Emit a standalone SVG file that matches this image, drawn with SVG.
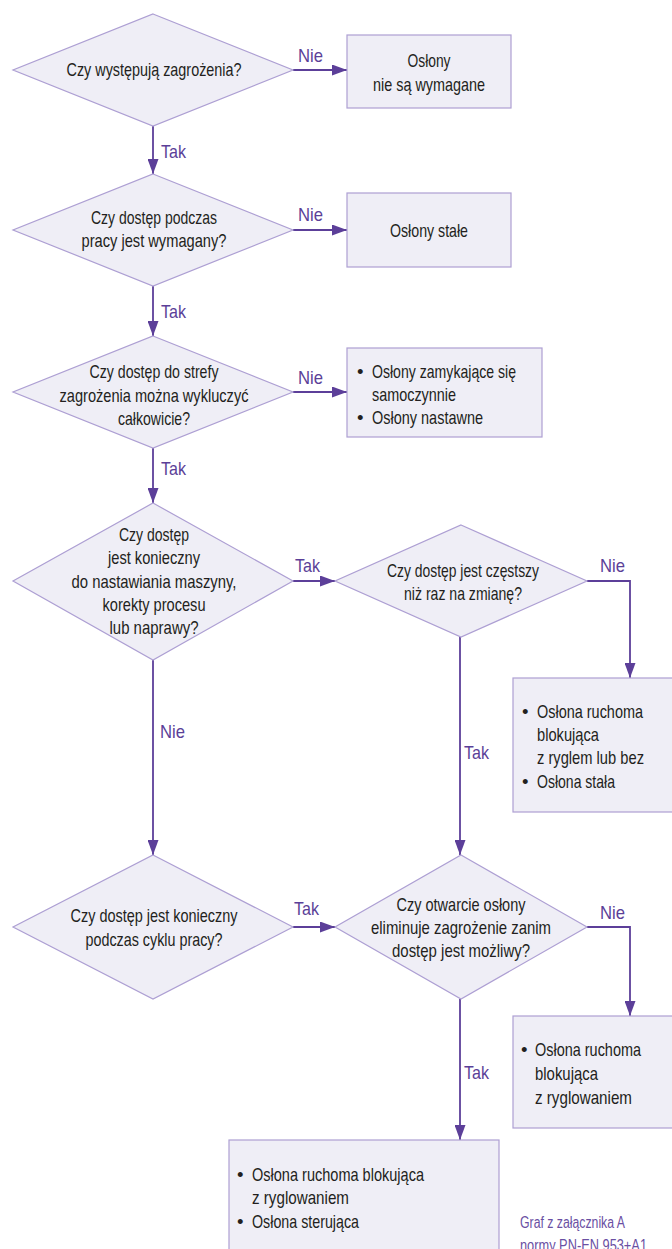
<svg xmlns="http://www.w3.org/2000/svg" width="672" height="1249" viewBox="0 0 672 1249">
<defs>
<style>
.node{fill:#efeef6;stroke:#ad9fd3;stroke-width:1.2}
.t{font-family:"Liberation Sans",Arial,sans-serif;font-size:18.5px;fill:#231f20}
.c{text-anchor:middle}
.lbl{font-family:"Liberation Sans",Arial,sans-serif;font-size:19px;fill:#5b3f98}
.cap{font-family:"Liberation Sans",Arial,sans-serif;font-size:16px;fill:#6a4fa3}
.conn{fill:none;stroke:#5c3f99;stroke-width:1.8;marker-end:url(#arr)}
</style>
<marker id="arr" markerUnits="userSpaceOnUse" markerWidth="15" markerHeight="11" refX="15" refY="5.5" orient="auto">
<path d="M0,0 L15,5.5 L0,11 z" fill="#5c3f99"/>
</marker>
</defs>
<rect width="672" height="1249" fill="#ffffff"/>

<g id="connectors">
<path class="conn" d="M293,70 H347"/>
<path class="conn" d="M153,126 V174"/>
<path class="conn" d="M293,230 H347"/>
<path class="conn" d="M153,286 V336"/>
<path class="conn" d="M293,392 H347"/>
<path class="conn" d="M153,448 V503"/>
<path class="conn" d="M293,581 H335"/>
<path class="conn" d="M587,581 H630 V678"/>
<path class="conn" d="M153,660 V855"/>
<path class="conn" d="M460,637 V855"/>
<path class="conn" d="M293,927 H335"/>
<path class="conn" d="M587,927 H630 V1016"/>
<path class="conn" d="M460,999 V1140"/>
<g id="labels">
<text class="lbl" x="298" y="62" textLength="25" lengthAdjust="spacingAndGlyphs">Nie</text>
<text class="lbl" x="161" y="158" textLength="25" lengthAdjust="spacingAndGlyphs">Tak</text>
<text class="lbl" x="298" y="221" textLength="25" lengthAdjust="spacingAndGlyphs">Nie</text>
<text class="lbl" x="161" y="318" textLength="25" lengthAdjust="spacingAndGlyphs">Tak</text>
<text class="lbl" x="298" y="384" textLength="25" lengthAdjust="spacingAndGlyphs">Nie</text>
<text class="lbl" x="161" y="475" textLength="25" lengthAdjust="spacingAndGlyphs">Tak</text>
<text class="lbl" x="295" y="572" textLength="25" lengthAdjust="spacingAndGlyphs">Tak</text>
<text class="lbl" x="600" y="572" textLength="25" lengthAdjust="spacingAndGlyphs">Nie</text>
<text class="lbl" x="160" y="738" textLength="25" lengthAdjust="spacingAndGlyphs">Nie</text>
<text class="lbl" x="464" y="759" textLength="25" lengthAdjust="spacingAndGlyphs">Tak</text>
<text class="lbl" x="294" y="915" textLength="25" lengthAdjust="spacingAndGlyphs">Tak</text>
<text class="lbl" x="600" y="919" textLength="25" lengthAdjust="spacingAndGlyphs">Nie</text>
<text class="lbl" x="464" y="1079" textLength="25" lengthAdjust="spacingAndGlyphs">Tak</text>
</g>
</g>

<g id="d1">
<polygon class="node" points="153,14 293,70 153,126 13,70"/>
<text class="t c" x="154" y="76" textLength="175" lengthAdjust="spacingAndGlyphs">Czy występują zagrożenia?</text>
</g>
<g id="b1">
<rect class="node" x="347" y="35" width="164" height="73"/>
<text class="t c" x="429" y="67" textLength="43" lengthAdjust="spacingAndGlyphs">Osłony</text>
<text class="t c" x="429" y="91" textLength="112" lengthAdjust="spacingAndGlyphs">nie są wymagane</text>
</g>

<g id="d2">
<polygon class="node" points="153,174 293,230 153,286 13,230"/>
<text class="t c" x="154" y="224" textLength="126" lengthAdjust="spacingAndGlyphs">Czy dostęp podczas</text>
<text class="t c" x="154" y="247" textLength="145" lengthAdjust="spacingAndGlyphs">pracy jest wymagany?</text>
</g>
<g id="b2">
<rect class="node" x="347" y="193" width="164" height="74"/>
<text class="t c" x="429" y="237" textLength="78" lengthAdjust="spacingAndGlyphs">Osłony stałe</text>
</g>

<g id="d3">
<polygon class="node" points="153,336 293,392 153,448 13,392"/>
<text class="t c" x="154" y="378" textLength="129" lengthAdjust="spacingAndGlyphs">Czy dostęp do strefy</text>
<text class="t c" x="154" y="402" textLength="189" lengthAdjust="spacingAndGlyphs">zagrożenia można wykluczyć</text>
<text class="t c" x="154" y="425" textLength="72" lengthAdjust="spacingAndGlyphs">całkowicie?</text>
</g>
<g id="b3">
<rect class="node" x="347" y="348" width="195" height="89"/>
<text class="t" x="357" y="378">•</text>
<text class="t" x="372" y="378" textLength="144" lengthAdjust="spacingAndGlyphs">Osłony zamykające się</text>
<text class="t" x="372" y="401" textLength="84" lengthAdjust="spacingAndGlyphs">samoczynnie</text>
<text class="t" x="357" y="424">•</text>
<text class="t" x="372" y="424" textLength="111" lengthAdjust="spacingAndGlyphs">Osłony nastawne</text>
</g>

<g id="d4">
<polygon class="node" points="153,503 293,581 153,660 13,581"/>
<text class="t c" x="154" y="541" textLength="70" lengthAdjust="spacingAndGlyphs">Czy dostęp</text>
<text class="t c" x="154" y="564" textLength="92" lengthAdjust="spacingAndGlyphs">jest konieczny</text>
<text class="t c" x="154" y="588" textLength="165" lengthAdjust="spacingAndGlyphs">do nastawiania maszyny,</text>
<text class="t c" x="154" y="611" textLength="103" lengthAdjust="spacingAndGlyphs">korekty procesu</text>
<text class="t c" x="154" y="634" textLength="89" lengthAdjust="spacingAndGlyphs">lub naprawy?</text>
</g>

<g id="d4b">
<polygon class="node" points="461,525 587,581 461,637 335,581"/>
<text class="t c" x="463" y="577" textLength="152" lengthAdjust="spacingAndGlyphs">Czy dostęp jest częstszy</text>
<text class="t c" x="463" y="600" textLength="118" lengthAdjust="spacingAndGlyphs">niż raz na zmianę?</text>
</g>
<g id="b4">
<rect class="node" x="513" y="678" width="170" height="134"/>
<text class="t" x="522" y="718">•</text>
<text class="t" x="537" y="718" textLength="106" lengthAdjust="spacingAndGlyphs">Osłona ruchoma</text>
<text class="t" x="537" y="741" textLength="62" lengthAdjust="spacingAndGlyphs">blokująca</text>
<text class="t" x="537" y="764" textLength="107" lengthAdjust="spacingAndGlyphs">z ryglem lub bez</text>
<text class="t" x="522" y="788">•</text>
<text class="t" x="537" y="788" textLength="78" lengthAdjust="spacingAndGlyphs">Osłona stała</text>
</g>

<g id="d5">
<polygon class="node" points="153,855 293,927 153,999 13,927"/>
<text class="t c" x="154" y="922" textLength="167" lengthAdjust="spacingAndGlyphs">Czy dostęp jest konieczny</text>
<text class="t c" x="154" y="946" textLength="137" lengthAdjust="spacingAndGlyphs">podczas cyklu pracy?</text>
</g>

<g id="d5b">
<polygon class="node" points="461,855 587,927 461,999 335,927"/>
<text class="t c" x="461" y="911" textLength="129" lengthAdjust="spacingAndGlyphs">Czy otwarcie osłony</text>
<text class="t c" x="461" y="934" textLength="180" lengthAdjust="spacingAndGlyphs">eliminuje zagrożenie zanim</text>
<text class="t c" x="461" y="957" textLength="138" lengthAdjust="spacingAndGlyphs">dostęp jest możliwy?</text>
</g>
<g id="b5">
<rect class="node" x="513" y="1016" width="170" height="112"/>
<text class="t" x="521" y="1056">•</text>
<text class="t" x="535" y="1056" textLength="106" lengthAdjust="spacingAndGlyphs">Osłona ruchoma</text>
<text class="t" x="535" y="1080" textLength="63" lengthAdjust="spacingAndGlyphs">blokująca</text>
<text class="t" x="535" y="1104" textLength="97" lengthAdjust="spacingAndGlyphs">z ryglowaniem</text>
</g>

<g id="b6">
<rect class="node" x="229" y="1140" width="270" height="130"/>
<text class="t" x="237" y="1181">•</text>
<text class="t" x="252" y="1181" textLength="172" lengthAdjust="spacingAndGlyphs">Osłona ruchoma blokująca</text>
<text class="t" x="252" y="1204" textLength="97" lengthAdjust="spacingAndGlyphs">z ryglowaniem</text>
<text class="t" x="237" y="1228">•</text>
<text class="t" x="252" y="1228" textLength="107" lengthAdjust="spacingAndGlyphs">Osłona sterująca</text>
</g>

<g id="caption">
<text class="cap" x="520" y="1228" textLength="105" lengthAdjust="spacingAndGlyphs">Graf z załącznika A</text>
<text class="cap" x="520" y="1251" textLength="127" lengthAdjust="spacingAndGlyphs">normy PN-EN 953+A1</text>
</g>
</svg>
